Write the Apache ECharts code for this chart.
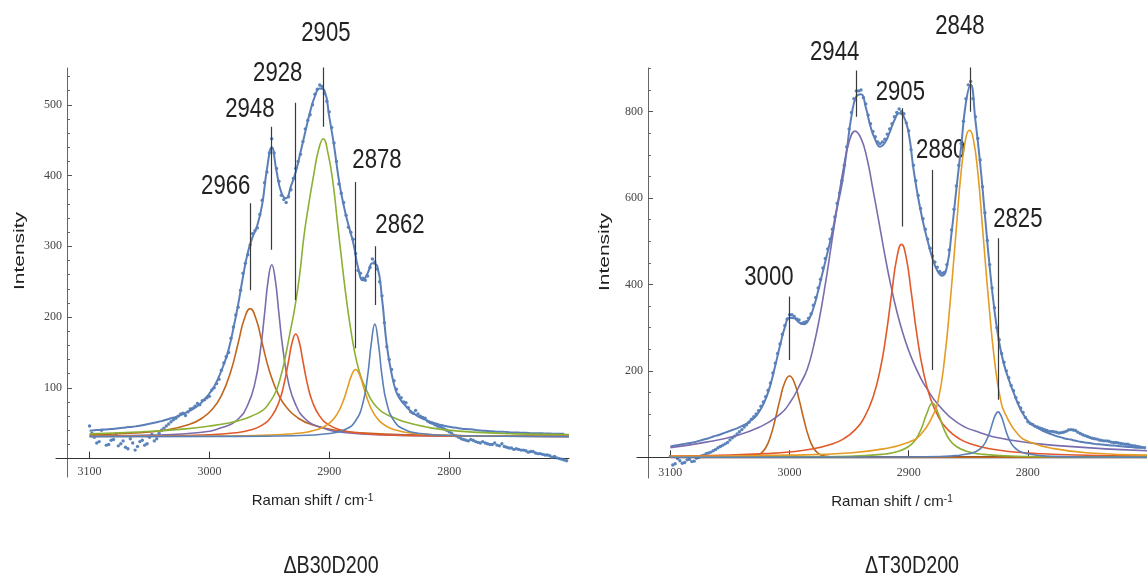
<!DOCTYPE html>
<html>
<head>
<meta charset="utf-8">
<script src="https://cdn.jsdelivr.net/npm/echarts@6/dist/echarts.min.js"></script>
<style>
  html, body { margin: 0; padding: 0; background: #fff; }
  #chart { width: 1147px; height: 576px; }
</style>
</head>
<body>
<div id="chart"></div>
<script>
// Raman shift sampling grids (cm-1), shared by both spectra
const shiftGrid = [
  3100,3096,3092,3088,3084,3080,3076,3072,3068,3064,
  3060,3056,3052,3048,3044,3040,3036,3032,3028,3024,
  3020,3016,3012,3008,3004,3000,2996,2992,2988,2984,
  2980,2976,2972,2968,2964,2960,2956,2952,2948,2944,
  2940,2936,2932,2928,2924,2920,2916,2912,2908,2904,
  2900,2896,2892,2888,2884,2880,2876,2872,2868,2864,
  2860,2856,2852,2848,2844,2840,2836,2832,2828,2824,
  2820,2816,2812,2808,2804,2800,2796,2792,2788,2784,
  2780,2776,2772,2768,2764,2760,2756,2752,2748,2744,
  2740,2736,2732,2728,2724,2720,2716,2712,2708,2704
];
const shiftGridB = [
  3098,3094,3090,3086,3082,3078,3074,3070,3066,3062,
  3058,3054,3050,3046,3042,3038,3034,3030,3026,3022,
  3018,3014,3010,3006,3002,2998,2994,2990,2986,2982,
  2978,2974,2970,2966,2962,2958,2954,2950,2946,2942,
  2938,2934,2930,2926,2922,2918,2914,2910,2906,2902,
  2898,2894,2890,2886,2882,2878,2874,2870,2866,2862,
  2858,2854,2850,2846,2842,2838,2834,2830,2826,2822,
  2818,2814,2810,2806,2802,2798,2794,2790,2786,2782,
  2778,2774,2770,2766,2762,2758,2754,2750,2746,2742,
  2738,2734,2730,2726,2722,2718,2714,2710,2706,2702
];

// ---------- ΔB30D200 ----------
const measured1 = [
  46,30,24,33,20,27,18,25,14,22,
  17,26,21,34,28,40,46,52,57,63,
  61,70,74,76,83,88,100,112,135,150,
  186,214,262,288,318,326,365,405,452,410,
  372,362,380,410,430,466,486,515,528,516,
  490,446,388,362,327,310,266,255,258,282,
  268,230,158,126,98,86,79,66,68,60,
  57,51,48,45,42,38,33,30,27,25,
  26,23,24,21,20,19,21,16,15,14,
  12,11,10,8,7,5,4,3,0,-2
];
const measured1b = [
  36,22,40,19,26,35,21,16,28,12,
  24,19,30,25,36,43,49,55,60,64,
  66,71,78,82,86,97,106,125,144,170,
  203,238,276,302,322,345,390,432,432,392,
  366,370,396,420,448,478,500,522,526,505,
  468,420,375,344,320,290,262,252,270,278,
  250,192,140,110,90,80,72,64,63,58,
  53,50,46,44,40,36,32,28,26,27,
  24,22,22,20,22,18,17,15,13,13,
  12,9,10,7,6,5,2,1,-1,-3
];
const envelope1 = [
  39.5,40,40.5,41,41.5,42,43,43.5,44.5,45,
  46,47,48.5,50,51.5,53,55,57,59,61.5,
  64.5,68,72,77,84,92,102,116,133,154,
  184,218,257,291,313,330,359,409,440,406,
  376,368,385,405,433,462,490,512,523,520,
  483,442,394,358,330,305,270,252,262,276,
  272,226,160,120,94,82,74,67,62,58,
  55,52,50,48,46.5,45,44,43,42,41.5,
  41,40,39.5,39,38.5,38,38,37.5,37,37,
  36.5,36.5,36,36,36,35.5,35.5,35,35,35
];
const band2966 = [[3100,33.7],[3066,35.8],[3036,40.5],[3016,48.8],[3006,57.4],[2998,69],[2990,89],[2982,124.3],[2976,163.4],[2971,196.8],[2966,212],[2961,196.8],[2956,163.4],[2950,124.3],[2942,89],[2934,69],[2926,57.4],[2916,48.8],[2896,40.5],[2866,35.8],[2832,33.7],[2790,32.6],[2700,31.7]];
const band2948 = [[3100,31.9],[3048,33.2],[3008,36.9],[2988,44.7],[2976,56],[2968,76],[2962,107],[2957.5,152.5],[2954,204.5],[2951,252],[2948,274],[2945,252],[2942,204.5],[2938.5,152.5],[2934,107],[2928,76],[2920,56],[2908,44.7],[2888,36.9],[2848,33.2],[2796,31.9],[2700,31.4]];
const band2928 = [[3100,31.5],[3048,32],[3000,33.7],[2978,36.6],[2966,40.4],[2956,47.3],[2948,60],[2942,80],[2938,103.5],[2934,137.6],[2931,164],[2928,176],[2925,164],[2922,137.6],[2918,103.5],[2914,80],[2908,60],[2900,47.3],[2890,40.4],[2878,36.6],[2856,33.7],[2808,32],[2756,31.5],[2700,31.3]];
const band2905 = [[3100,35],[3060,37.5],[3020,42],[3000,46],[2985,50],[2975,54],[2965,60],[2955,69],[2950,79],[2945,93],[2941,113],[2937,141],[2933,176],[2929,211],[2925,256],[2921,316],[2917,361],[2913,401],[2909,436],[2905,452],[2901,431],[2897,391],[2893,331],[2889,271],[2885,216],[2881,171],[2877,136],[2873,113],[2869,97],[2865,83],[2861,74],[2855,65],[2845,57],[2835,51],[2820,45],[2805,41],[2775,37],[2745,35],[2700,34]];
const band2878 = [[3100,31.2],[3020,31.6],[2980,32.1],[2950,33.2],[2930,35.2],[2918,37.7],[2910,41],[2904,45.4],[2898,53],[2893,64.2],[2889,78.5],[2885,98.6],[2881.5,117.3],[2878,126],[2874.5,117.3],[2871,98.6],[2867,78.5],[2863,64.2],[2858,53],[2852,45.4],[2846,41],[2838,37.7],[2826,35.2],[2806,33.2],[2776,32.1],[2736,31.6],[2700,31.4]];
const band2862 = [[3100,31.1],[2990,31.4],[2930,32.4],[2900,35.5],[2886,41.9],[2878,53.5],[2872,78.2],[2868,117],[2865,162],[2862,190],[2859,162],[2856,117],[2852,78.2],[2846,53.5],[2838,41.9],[2824,35.5],[2794,32.4],[2734,31.4],[2700,31.1]];
const peaks1 = [2966, 2948, 2928, 2905, 2878, 2862];
const stemTop1 = [361, 469, 503, 564, 391, 300];
const stemBottom1 = [238, 295, 224, 469, 156, 217];
const tagX1 = [2986.4, 2966.3, 2943, 2902.8, 2860.2, 2841];
const tagY1 = [384, 493, 544, 600, 421, 329];

// ---------- ΔT30D200 ----------
const measured2 = [
  2,-15,-8,-12,-5,-9,0,5,10,15,
  22,28,34,45,54,64,75,88,100,118,
  140,172,218,262,305,330,326,318,312,322,
  352,392,438,482,528,588,640,718,798,848,
  850,818,772,742,726,736,760,788,806,795,
  756,676,606,552,505,466,440,426,446,526,
  628,726,830,870,788,688,566,446,346,272,
  220,184,154,126,104,82,76,70,66,62,
  60,58,57,60,64,62,55,50,46,43,
  40,38,37,34,33,31,30,27,25,23
];
const measured2b = [
  -18,-3,-14,-6,-10,-2,3,8,12,18,
  25,31,40,49,59,70,81,94,108,128,
  155,195,240,285,320,330,320,310,314,332,
  370,412,460,505,556,612,676,760,830,848,
  832,792,754,730,730,748,772,798,800,774,
  712,640,576,528,484,452,430,428,480,574,
  676,778,862,830,738,626,502,392,300,240,
  200,166,138,114,92,78,72,68,64,60,
  59,56,58,63,63,58,52,48,44,42,
  39,38,35,34,32,30,28,26,24,22
];
const envelope2 = [
  25,27,29,31,33,35,38,41,44,48,
  51,55,59,63,67,72,78,86,96,112,
  135,168,212,258,300,323,322,312,308,318,
  345,385,430,475,522,580,634,710,790,835,
  840,810,765,735,719,728,752,780,796,788,
  750,668,600,545,500,460,432,420,440,520,
  620,718,820,862,780,680,560,440,340,265,
  215,180,150,122,100,85,75,68,62,57,
  53,49,46,43,41,38,36,34,33,31,
  30,29,28,27,26,25,24,23,22,22
];
const band3000 = [[3100,0],[3040,0.3],[3032,2],[3028,4],[3024,9],[3020,22],[3016,48],[3012,88],[3008,134],[3004,173],[3000,188],[2996,173],[2992,134],[2988,88],[2984,48],[2980,22],[2976,9],[2972,4],[2968,2],[2960,0.3],[2900,0],[2700,0]];
const band2944 = [[3100,22],[3070,35],[3045,50],[3025,70],[3010,95],[3000,125],[2990,175],[2985,205],[2980,255],[2975,320],[2970,400],[2965,490],[2960,580],[2955,665],[2950,730],[2945,755],[2940,738],[2935,692],[2930,620],[2925,545],[2920,468],[2915,398],[2910,338],[2905,288],[2900,247],[2895,213],[2890,184],[2885,160],[2875,121],[2860,82],[2840,57],[2815,40],[2775,27],[2700,15]];
const band2905b = [[3100,2.9],[3050,5.3],[3020,8.4],[3000,12.2],[2980,19.5],[2965,30],[2955,42],[2945,63.5],[2937,93.6],[2930,138.5],[2924,202],[2919,282],[2914,385],[2910,461],[2906,493],[2902,461],[2898,385],[2893,282],[2888,202],[2882,138.5],[2875,93.6],[2867,63.5],[2857,42],[2847,30],[2832,19.5],[2812,12.2],[2790,8.2],[2760,5.2],[2700,2.6]];
const band2880 = [[3100,0.3],[3000,0.9],[2950,2.5],[2920,7.4],[2910,12.5],[2900,25],[2894,41.7],[2889,69],[2885,100],[2880,125],[2875,100],[2871,69],[2866,41.7],[2860,25],[2850,12.5],[2840,7.4],[2810,2.5],[2760,0.9],[2700,0.4]];
const band2848 = [[3100,2],[3000,5],[2950,10],[2920,20],[2900,35],[2890,52],[2880,95],[2875,135],[2870,225],[2865,365],[2860,530],[2856,660],[2852,740],[2849,757],[2846,740],[2842,660],[2838,530],[2833,365],[2828,225],[2823,135],[2818,95],[2808,52],[2798,35],[2778,20],[2748,10],[2700,5]];
const band2825 = [[3100,0],[2900,0.5],[2870,2],[2860,4],[2850,8],[2843,14],[2838,25],[2835,38],[2832,58],[2829,85],[2827,99],[2825,105],[2823,99],[2821,85],[2818,58],[2815,38],[2812,25],[2807,14],[2800,8],[2790,4],[2780,2],[2750,0.5],[2700,0]];
const zeroLine2 = [[3100,0],[2700,0]];
const peaks2 = [3000, 2944, 2905, 2880, 2848, 2825];
const stemTop2 = [372, 895, 808, 665, 947, 507];
const stemBottom2 = [225, 788, 534, 202, 800, 133];
const tagX2 = [3017.3, 2962.1, 2907, 2873.1, 2857, 2808.4];
const tagY2 = [416, 936, 845, 711, 998, 551];

// axis ticks
const xTicks = [2800, 2900, 3000, 3100];
const yMajor1 = [100, 200, 300, 400, 500];
const yMinor1 = [20,40,60,80,120,140,160,180,220,240,260,280,320,340,360,380,420,440,460,480,520,540];
const yMajor2 = [200, 400, 600, 800];
const yMinor2 = [50,100,150,250,300,350,450,500,550,650,700,750,850,900];

const C = {
  data: '#4a78b4', fit: '#5a7fb8', brown: '#c0661c', purple: '#7b6cae',
  red: '#e2592a', green: '#8cb034', orange: '#e49c25', blue: '#5a80b8',
  ink: '#222', axis: '#333', tick: '#444'
};
const SANS = '"Liberation Sans", Arial, sans-serif';
const SERIF = '"Liberation Serif", "Times New Roman", serif';

function xy(xs, ys) { return xs.map((x, i) => [x, ys[i]]); }

function xAxisFor(grid, zeroAxis) {
  return {
    type: 'value', gridIndex: grid, inverse: true, min: 2700, max: 3128,
    name: 'Raman shift / cm{s|-1}', nameLocation: 'middle', nameGap: 16,
    nameTextStyle: {
      color: C.ink, fontFamily: SANS, fontSize: 15,
      rich: { s: { fontSize: 10, verticalAlign: 'top', padding: [0, 0, 6, 0], color: C.ink } }
    },
    axisLine: { onZero: true, onZeroAxisIndex: zeroAxis, lineStyle: { color: C.axis, width: 1.2 } },
    axisTick: { inside: true, length: 7, customValues: xTicks, lineStyle: { color: C.axis } },
    axisLabel: {
      customValues: xTicks, margin: -11, fontFamily: SERIF, fontSize: 12, color: C.tick,
      formatter: v => String(v)
    },
    splitLine: { show: false }
  };
}
function yAxisFor(grid, min, max, major, minor, showLine) {
  const base = {
    type: 'value', gridIndex: grid, min: min, max: max, position: 'left', offset: -11,
    splitLine: { show: false }
  };
  if (showLine) {
    return Object.assign(base, {
      axisLine: { show: true, lineStyle: { color: '#666', width: 1 } },
      axisTick: { show: true, inside: true, length: 5, customValues: major, lineStyle: { color: '#555' } },
      axisLabel: {
        show: true, customValues: major, margin: 5, fontFamily: SERIF, fontSize: 12, color: C.tick,
        formatter: v => String(v)
      }
    });
  }
  return Object.assign(base, {
    axisLine: { show: false },
    axisTick: { show: true, inside: true, length: 3, customValues: minor, lineStyle: { color: '#666' } },
    axisLabel: { show: false }
  });
}

function curve(name, pts, color, xi, yi, width) {
  return {
    name: name, type: 'line', xAxisIndex: xi, yAxisIndex: yi, data: pts,
    smooth: 0.5, showSymbol: false, symbol: 'none', silent: true,
    lineStyle: { color: color, width: width || 1.6 }, z: 4, clip: false
  };
}
function dots(xi, yi, xs, ys) {
  return {
    name: 'measured', type: 'scatter', xAxisIndex: xi, yAxisIndex: yi,
    data: xy(xs, ys), symbolSize: 3.4, silent: true,
    itemStyle: { color: C.data, opacity: 0.9 }, z: 2, clip: false
  };
}
function stemSeries(xi, yi, peaks, top, bottom) {
  return {
    type: 'lines', coordinateSystem: 'cartesian2d', xAxisIndex: xi, yAxisIndex: yi,
    polyline: false, silent: true, z: 6,
    data: peaks.map((p, i) => ({ coords: [[p, bottom[i]], [p, top[i]]] })),
    lineStyle: { color: '#3a3a3a', width: 1.2, opacity: 1 }
  };
}

const option = {
  animation: false,
  backgroundColor: '#fff',
  grid: [
    { left: 56, top: 68, width: 513, height: 409 },
    { left: 637, top: 68, width: 513, height: 410 }
  ],
  xAxis: [xAxisFor(0, 0), xAxisFor(1, 2)],
  yAxis: [
    yAxisFor(0, -26, 552, yMajor1, yMinor1, true),
    yAxisFor(0, -26, 552, yMajor1, yMinor1, false),
    yAxisFor(1, -48, 901, yMajor2, yMinor2, true),
    yAxisFor(1, -48, 901, yMajor2, yMinor2, false)
  ],
  series: [
    dots(0, 0, shiftGrid, measured1),
    dots(0, 0, shiftGridB, measured1b),
    curve('fit', xy(shiftGrid, envelope1), C.fit, 0, 0, 2),
    curve('2966', band2966, C.brown, 0, 0),
    curve('2948', band2948, C.purple, 0, 0),
    curve('2928', band2928, C.red, 0, 0),
    curve('2905', band2905, C.green, 0, 0),
    curve('2878', band2878, C.orange, 0, 0),
    curve('2862', band2862, C.blue, 0, 0),
    stemSeries(0, 0, peaks1, stemTop1, stemBottom1),

    curve('zero', zeroLine2, '#3b1a10', 1, 2, 2.2),
    dots(1, 2, shiftGrid, measured2),
    dots(1, 2, shiftGridB, measured2b),
    curve('fit', xy(shiftGrid, envelope2), C.fit, 1, 2, 2),
    curve('3000', band3000, C.brown, 1, 2),
    curve('2944', band2944, C.purple, 1, 2),
    curve('2905', band2905b, C.red, 1, 2),
    curve('2880', band2880, C.green, 1, 2),
    curve('2848', band2848, C.orange, 1, 2),
    curve('2825', band2825, C.blue, 1, 2),
    stemSeries(1, 2, peaks2, stemTop2, stemBottom2)
  ]
};

const chart = echarts.init(document.getElementById('chart'));
chart.setOption(option);

// condensed text: regular sans squeezed horizontally
function text(x, y, str, size, extra) {
  return Object.assign({
    type: 'text', x: x, y: y, silent: true,
    style: {
      text: str, fontFamily: SANS, fontSize: size, fill: C.ink,
      align: 'center', verticalAlign: 'middle', textAlign: 'center', textVerticalAlign: 'middle'
    }
  }, extra || {});
}
function peakTags(gridIndex, peaks, tx, ty) {
  return peaks.map((p, i) => {
    const pt = chart.convertToPixel({ gridIndex: gridIndex }, [tx[i], ty[i]]);
    return text(pt[0], pt[1], String(p), 27, { scaleX: 0.82 });
  });
}

chart.setOption({
  graphic: [
    text(20, 251, 'Intensity', 21, { rotation: Math.PI / 2, scaleY: 0.7 }),
    text(605, 252, 'Intensity', 21, { rotation: Math.PI / 2, scaleY: 0.7 }),
    text(331, 566, 'ΔB30D200', 24, { scaleX: 0.82 }),
    text(912, 566, 'ΔT30D200', 24, { scaleX: 0.82 }),
    ...peakTags(0, peaks1, tagX1, tagY1),
    ...peakTags(1, peaks2, tagX2, tagY2)
  ]
});
</script>
</body>
</html>
